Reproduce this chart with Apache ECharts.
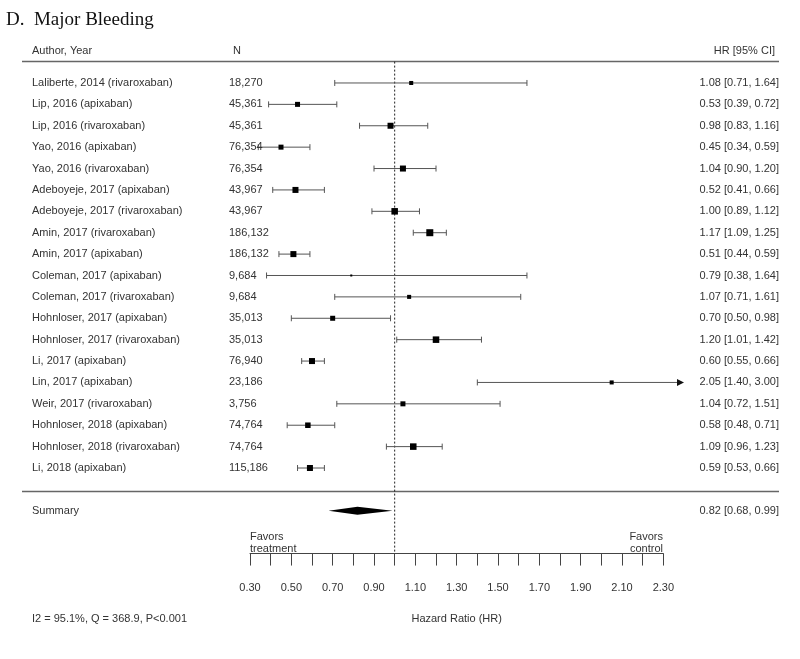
<!DOCTYPE html>
<html>
<head>
<meta charset="utf-8">
<script src="https://cdn.jsdelivr.net/npm/echarts@6/dist/echarts.min.js"></script>
<style>
html,body{margin:0;padding:0;background:#fff;}
#chart{width:800px;height:659px;}
</style>
</head>
<body>
<div id="chart"></div>
<script>
// ---- data ----
const authors = [
  'Laliberte, 2014 (rivaroxaban)',
  'Lip, 2016 (apixaban)',
  'Lip, 2016 (rivaroxaban)',
  'Yao, 2016 (apixaban)',
  'Yao, 2016 (rivaroxaban)',
  'Adeboyeje, 2017 (apixaban)',
  'Adeboyeje, 2017 (rivaroxaban)',
  'Amin, 2017 (rivaroxaban)',
  'Amin, 2017 (apixaban)',
  'Coleman, 2017 (apixaban)',
  'Coleman, 2017 (rivaroxaban)',
  'Hohnloser, 2017 (apixaban)',
  'Hohnloser, 2017 (rivaroxaban)',
  'Li, 2017 (apixaban)',
  'Lin, 2017 (apixaban)',
  'Weir, 2017 (rivaroxaban)',
  'Hohnloser, 2018 (apixaban)',
  'Hohnloser, 2018 (rivaroxaban)',
  'Li, 2018 (apixaban)'
];
const nValues = ['18,270','45,361','45,361','76,354','76,354','43,967','43,967','186,132','186,132','9,684','9,684','35,013','35,013','76,940','23,186','3,756','74,764','74,764','115,186'];
const hr    = [1.08,0.53,0.98,0.45,1.04,0.52,1.00,1.17,0.51,0.79,1.07,0.70,1.20,0.60,2.05,1.04,0.58,1.09,0.59];
const lower = [0.71,0.39,0.83,0.34,0.90,0.41,0.89,1.09,0.44,0.38,0.71,0.50,1.01,0.55,1.40,0.72,0.48,0.96,0.53];
const upper = [1.64,0.72,1.16,0.59,1.20,0.66,1.12,1.25,0.59,1.64,1.61,0.98,1.42,0.66,3.00,1.51,0.71,1.23,0.66];
// estimated study weights (%), read from square sizes
const weights = [2.8,4.3,6.2,4.3,6.2,6.2,7.3,8.4,6.2,0.7,2.8,4.3,7.3,6.2,2.8,4.3,5.2,7.3,6.2];
const summaryLabel = 'Summary';
const summaryHR = 0.82, summaryLower = 0.68, summaryUpper = 0.99;
const summaryText = '0.82 [0.68, 0.99]';
const headers = ['Author, Year', 'N', 'HR [95% CI]'];
const statsText = 'I2 = 95.1%, Q = 368.9, P<0.001';
const axisTitle = 'Hazard Ratio (HR)';
const axisMin = 0.3, axisMax = 2.3, axisStep = 0.1;
const plotMax = 2.4;
const titleText = 'D.  Major Bleeding';

// ---- layout ----
const FONT = 'Liberation Sans, Arial, Helvetica, sans-serif';
const TXT = '#333';
const k = authors.length;
const rowTop = k + 2, rowBottom = -3;
const gridTop = 40.2, rowPx = 21.39;
const gridHeight = (rowTop - rowBottom) * rowPx;
const pxPerUnit = 206.67;
const left = 250;
const headerRow = k + 1.5;

const fmt = v => v.toFixed(2);
const studyData = authors.map((a, i) => [lower[i], upper[i], hr[i], k - i, weights[i]]);
const textData = authors.map((a, i) => [k - i, a, nValues[i], fmt(hr[i]) + ' [' + fmt(lower[i]) + ', ' + fmt(upper[i]) + ']']);
textData.push([headerRow, headers[0], headers[1], headers[2]]);
textData.push([-1, summaryLabel, '', summaryText]);

function txt(x, y, s, align) {
  return {type: 'text', style: {x: x, y: y, text: s, fill: TXT, font: '11px ' + FONT, textAlign: align || 'left', textVerticalAlign: 'middle'}};
}

const option = {
  animation: false,
  backgroundColor: '#fff',
  title: {text: titleText, left: 1, top: 6, textStyle: {fontFamily: 'Liberation Serif, Times New Roman, serif', fontSize: 19, fontWeight: 'normal', color: '#111'}},
  grid: [
    {left: left, top: gridTop, width: (plotMax - axisMin) * pxPerUnit, height: gridHeight},
    {left: left, top: gridTop, width: (axisMax - axisMin) * pxPerUnit, height: gridHeight}
  ],
  xAxis: [
    {gridIndex: 0, type: 'value', min: axisMin, max: plotMax, show: false},
    {gridIndex: 1, type: 'value', min: axisMin, max: axisMax, interval: axisStep, position: 'bottom',
     axisLine: {show: true, onZero: false, lineStyle: {color: '#444', width: 1}},
     axisTick: {show: true, length: 12, lineStyle: {color: '#444', width: 1}},
     splitLine: {show: false},
     axisLabel: {margin: 29, color: TXT, fontSize: 11, fontFamily: FONT,
       formatter: v => (Math.round(v * 10) % 2 === 1 ? v.toFixed(2) : '')},
     name: axisTitle, nameLocation: 'middle', nameGap: 60,
     nameTextStyle: {color: TXT, fontSize: 11, fontFamily: FONT}}
  ],
  yAxis: [
    {gridIndex: 0, type: 'value', min: rowBottom, max: rowTop, show: false},
    {gridIndex: 1, type: 'value', min: rowBottom, max: rowTop, show: false}
  ],
  series: [
    { // horizontal rules and reference line
      type: 'custom', xAxisIndex: 0, yAxisIndex: 0, silent: true, clip: false,
      data: [[0]],
      renderItem: function (params, api) {
        const yTop = api.coord([1, k + 1])[1];
        const yBot = api.coord([1, -0.1])[1];
        const yAx = api.coord([1, rowBottom])[1];
        const xr = api.coord([1, 0])[0];
        return {type: 'group', children: [
          {type: 'line', shape: {x1: 22, y1: yTop, x2: 779, y2: yTop}, style: {stroke: '#666', lineWidth: 1.5}},
          {type: 'line', shape: {x1: 22, y1: yBot, x2: 779, y2: yBot}, style: {stroke: '#666', lineWidth: 1.5}},
          {type: 'line', shape: {x1: xr, y1: yTop, x2: xr, y2: yAx}, style: {stroke: '#222', lineWidth: 1, lineDash: [2, 2]}}
        ]};
      }
    },
    { // study CIs and squares
      type: 'custom', xAxisIndex: 0, yAxisIndex: 0, clip: false,
      encode: {x: [0, 1, 2], y: 3},
      data: studyData,
      renderItem: function (params, api) {
        const lo = api.value(0), hi = api.value(1), est = api.value(2), row = api.value(3), w = api.value(4);
        const clipped = hi > plotMax;
        const p1 = api.coord([lo, row]);
        const p2 = api.coord([clipped ? plotMax : hi, row]);
        const pe = api.coord([est, row]);
        const s = 2.415 * Math.sqrt(w);
        const ch = [
          {type: 'line', shape: {x1: p1[0], y1: p1[1], x2: clipped ? p2[0] - 6 : p2[0], y2: p2[1]}, style: {stroke: '#555', lineWidth: 1}},
          {type: 'line', shape: {x1: p1[0], y1: p1[1] - 3, x2: p1[0], y2: p1[1] + 3}, style: {stroke: '#555', lineWidth: 1}}
        ];
        if (clipped) {
          ch.push({type: 'polygon', shape: {points: [[p2[0], p2[1]], [p2[0] - 7, p2[1] - 3.5], [p2[0] - 7, p2[1] + 3.5]]}, style: {fill: '#111'}});
        } else {
          ch.push({type: 'line', shape: {x1: p2[0], y1: p2[1] - 3, x2: p2[0], y2: p2[1] + 3}, style: {stroke: '#555', lineWidth: 1}});
        }
        ch.push({type: 'rect', shape: {x: pe[0] - s / 2, y: pe[1] - s / 2, width: s, height: s}, style: {fill: '#000'}});
        return {type: 'group', children: ch};
      }
    },
    { // summary diamond
      type: 'custom', xAxisIndex: 0, yAxisIndex: 0, clip: false,
      encode: {x: [0, 1, 2], y: 3},
      data: [[summaryLower, summaryUpper, summaryHR, -1]],
      renderItem: function (params, api) {
        const a = api.coord([api.value(0), api.value(3)]);
        const b = api.coord([api.value(1), api.value(3)]);
        const c = api.coord([api.value(2), api.value(3)]);
        const h = 4;
        return {type: 'polygon', shape: {points: [[a[0], a[1]], [c[0], c[1] - h], [b[0], b[1]], [c[0], c[1] + h]]}, style: {fill: '#000'}};
      }
    },
    { // text columns
      type: 'custom', xAxisIndex: 0, yAxisIndex: 0, clip: false, silent: true,
      encode: {y: 0},
      data: textData,
      renderItem: function (params, api) {
        const y = api.coord([1, api.value(0)])[1];
        const d = textData[params.dataIndex];
        const isHeader = d[0] === headerRow;
        return {type: 'group', children: [
          txt(32, y, d[1], 'left'),
          txt(isHeader ? 233 : 229, y, d[2], 'left'),
          txt(isHeader ? 775 : 779, y, d[3], 'right')
        ]};
      }
    }
  ],
  graphic: [
    {type: 'text', left: 250, top: 531, style: {text: 'Favors\ntreatment', fill: TXT, font: '11px ' + FONT, lineHeight: 12}},
    {type: 'text', right: 137, top: 531, style: {text: 'Favors\ncontrol', fill: TXT, font: '11px ' + FONT, lineHeight: 12, textAlign: 'right'}},
    {type: 'text', left: 32, top: 613, style: {text: statsText, fill: TXT, font: '11px ' + FONT}}
  ]
};

const chart = echarts.init(document.getElementById('chart'), null, {renderer: 'canvas'});
chart.setOption(option);
</script>
</body>
</html>
